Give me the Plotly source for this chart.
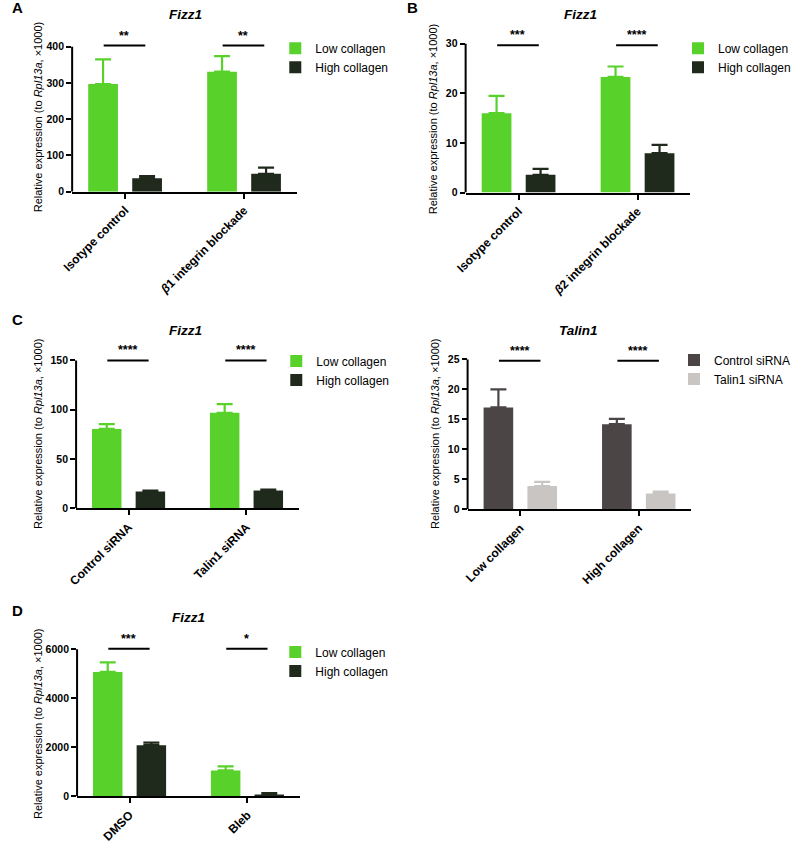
import plotly.graph_objects as go

W, H = 796, 846
FONT = "Liberation Sans, Arial, Helvetica, sans-serif"

GREEN = "#58d12b"
DARK = "#1f2a1c"
CTRL_GRAY = "#4b4546"
TALIN_GRAY = "#c8c5c2"

# ---------------- data ----------------
# Panel A (Fizz1)
A_categories = ["Isotype control", "<i>β</i>1 integrin blockade"]
A_low = [297, 331]
A_low_err = [68, 43]
A_high = [37, 49]
A_high_err = [6, 17]
A_sig = ["**", "**"]
A_sig_y = 403
A_yticks = [0, 100, 200, 300, 400]

# Panel B (Fizz1)
B_categories = ["Isotype control", "<i>β</i>2 integrin blockade"]
B_low = [16.0, 23.3]
B_low_err = [3.5, 2.1]
B_high = [3.6, 7.95]
B_high_err = [1.2, 1.65]
B_sig = ["***", "****"]
B_sig_y = 29.7
B_yticks = [0, 10, 20, 30]

# Panel C left (Fizz1)
C1_categories = ["Control siRNA", "Talin1 siRNA"]
C1_low = [80.5, 96.9]
C1_low_err = [5.0, 8.7]
C1_high = [17.0, 18.0]
C1_high_err = [1.0, 1.0]
C1_sig = ["****", "****"]
C1_sig_y = 150
C1_yticks = [0, 50, 100, 150]

# Panel C right (Talin1)
C2_categories = ["Low collagen", "High collagen"]
C2_control = [17.0, 14.2]
C2_control_err = [3.0, 0.9]
C2_talin = [3.9, 2.65]
C2_talin_err = [0.7, 0.3]
C2_sig = ["****", "****"]
C2_sig_y = 24.8
C2_yticks = [0, 5, 10, 15, 20, 25]

# Panel D (Fizz1)
D_categories = ["DMSO", "Bleb"]
D_low = [5080, 1056]
D_low_err = [392, 163]
D_high = [2086, 68]
D_high_err = [108, 67]
D_sig = ["***", "*"]
D_sig_y = 6027
D_yticks = [0, 2000, 4000, 6000]

# ---------------- layout geometry (pixels) ----------------
panels = [
    dict(title="Fizz1", cats=A_categories,
         series=[("Low collagen", A_low, A_low_err, GREEN), ("High collagen", A_high, A_high_err, DARK)],
         sig=A_sig, sig_y=A_sig_y, yticks=A_yticks,
         px=(62, 290), py0=193, pytop=47, title_xy=(177, 15), ytitle_xy=(27.5, 118),
         legend=dict(x=268, y=34, anchor="left"), letter=("A", 7, 8)),
    dict(title="Fizz1", cats=B_categories,
         series=[("Low collagen", B_low, B_low_err, GREEN), ("High collagen", B_high, B_high_err, DARK)],
         sig=B_sig, sig_y=B_sig_y, yticks=B_yticks,
         px=(461, 689), py0=194, pytop=44, title_xy=(577, 15), ytitle_xy=(428, 120),
         legend=dict(x=W, y=34, anchor="right"), letter=("B", 407, 8)),
    dict(title="Fizz1", cats=C1_categories,
         series=[("Low collagen", C1_low, C1_low_err, GREEN), ("High collagen", C1_high, C1_high_err, DARK)],
         sig=C1_sig, sig_y=C1_sig_y, yticks=C1_yticks,
         px=(66, 292), py0=512, pytop=363, title_xy=(177, 333), ytitle_xy=(27.5, 437),
         legend=dict(x=269, y=349, anchor="left"), letter=("C", 7, 322)),
    dict(title="Talin1", cats=C2_categories,
         series=[("Control siRNA", C2_control, C2_control_err, CTRL_GRAY), ("Talin1 siRNA", C2_talin, C2_talin_err, TALIN_GRAY)],
         sig=C2_sig, sig_y=C2_sig_y, yticks=C2_yticks,
         px=(463, 690), py0=513, pytop=362, title_xy=(575, 333), ytitle_xy=(430, 437),
         legend=dict(x=W, y=348, anchor="right"), letter=None),
    dict(title="Fizz1", cats=D_categories,
         series=[("Low collagen", D_low, D_low_err, GREEN), ("High collagen", D_high, D_high_err, DARK)],
         sig=D_sig, sig_y=D_sig_y, yticks=D_yticks,
         px=(67, 293), py0=802, pytop=654, title_xy=(180, 622), ytitle_xy=(27.5, 729),
         legend=dict(x=268, y=642, anchor="left"), letter=("D", 7, 615)),
]

XRANGE = [-0.445, 1.445]
EXT = 1.06
BAR_W = 0.25
OFFSETS = [-0.31, 0.06]

fig = go.Figure()
shapes = []
annotations = []
layout = dict(
    width=W, height=H, margin=dict(l=0, r=0, t=0, b=0),
    paper_bgcolor="white", plot_bgcolor="white",
    barmode="overlay", showlegend=True,
    font=dict(family=FONT, color="black"),
)

YTITLE = "Relative expression (to <i>Rpl13a</i>, ×1000)"

for k, p in enumerate(panels):
    n = k + 1
    xa = "x" if n == 1 else f"x{n}"
    ya = "y" if n == 1 else f"y{n}"
    lg = "legend" if n == 1 else f"legend{n}"
    xkey = "xaxis" if n == 1 else f"xaxis{n}"
    ykey = "yaxis" if n == 1 else f"yaxis{n}"

    ytop = p["yticks"][-1]
    p0, pt = p["py0"], p["pytop"]
    ptop_ext = p0 - EXT * (p0 - pt)
    xdom = [p["px"][0] / W, p["px"][1] / W]
    ydom = [1 - p0 / H, 1 - ptop_ext / H]
    xs = list(range(len(p["cats"])))

    for j, (name, vals, errs, color) in enumerate(p["series"]):
        fig.add_trace(go.Bar(
            x=xs, y=vals, name=name, width=BAR_W, offset=OFFSETS[j],
            marker=dict(color=color, line=dict(width=0)),
            error_y=dict(type="data", symmetric=False, array=errs,
                         arrayminus=[0] * len(errs), color=color,
                         thickness=2.2, width=8),
            xaxis=xa, yaxis=ya, legend=lg,
        ))

    layout[xkey] = dict(
        domain=xdom, anchor=ya, range=XRANGE, tickvals=xs, ticktext=p["cats"],
        tickangle=-45, showgrid=False, zeroline=False, showline=True,
        linecolor="black", linewidth=2, ticks="outside", ticklen=5, tickwidth=2,
        tickcolor="black",
        tickfont=dict(family=FONT, size=12, color="black", weight="bold"),
    )
    layout[ykey] = dict(
        domain=ydom, anchor=xa, range=[0, ytop * EXT], tickvals=p["yticks"],
        showgrid=False, zeroline=False, showline=False, ticks="outside",
        ticklen=5, tickwidth=2, tickcolor="black",
        tickfont=dict(family=FONT, size=10.5, color="black", weight="bold"),
    )
    lgd = p["legend"]
    layout[lg] = dict(
        x=lgd["x"] / W, y=1 - lgd["y"] / H,
        xanchor=lgd["anchor"], yanchor="top", bgcolor="rgba(0,0,0,0)",
        font=dict(family=FONT, size=12, color="black"), traceorder="normal",
        tracegroupgap=0,
    )

    # y axis line (from 0 to top tick)
    shapes.append(dict(type="line", xref="paper", yref=ya,
                       x0=xdom[0], x1=xdom[0], y0=0, y1=ytop,
                       line=dict(color="black", width=2)))
    # significance bars
    for i, s in enumerate(p["sig"]):
        shapes.append(dict(type="line", xref=xa, yref=ya,
                           x0=i - 0.18, x1=i + 0.17, y0=p["sig_y"], y1=p["sig_y"],
                           line=dict(color="black", width=2)))
        annotations.append(dict(x=i - 0.005, y=p["sig_y"], xref=xa, yref=ya, text=s,
                                showarrow=False, yanchor="bottom", yshift=1,
                                font=dict(family=FONT, size=12.5, color="black", weight="bold")))
    # title
    annotations.append(dict(x=p["title_xy"][0] / W, y=1 - p["title_xy"][1] / H,
                            xref="paper", yref="paper", showarrow=False,
                            text=f"<b><i>{p['title']}</i></b>", xanchor="center", yanchor="middle",
                            font=dict(family=FONT, size=13.5, color="black")))
    # y-axis title
    annotations.append(dict(x=p["ytitle_xy"][0] / W, y=1 - p["ytitle_xy"][1] / H,
                            xref="paper", yref="paper", showarrow=False, textangle=-90,
                            text=YTITLE, xanchor="center", yanchor="middle",
                            font=dict(family=FONT, size=11, color="black")))
    if p["letter"]:
        L, lx, ly = p["letter"]
        annotations.append(dict(x=lx / W, y=1 - ly / H, xref="paper", yref="paper",
                                showarrow=False, text=f"<b>{L}</b>",
                                xanchor="center", yanchor="middle",
                                font=dict(family=FONT, size=15, color="black")))

layout["shapes"] = shapes
layout["annotations"] = annotations
fig.update_layout(**layout)
fig.write_html(
    "out.html",
    config={"displayModeBar": False},
    post_script="document.body.style.margin='0';document.body.style.overflow='hidden';",
)
